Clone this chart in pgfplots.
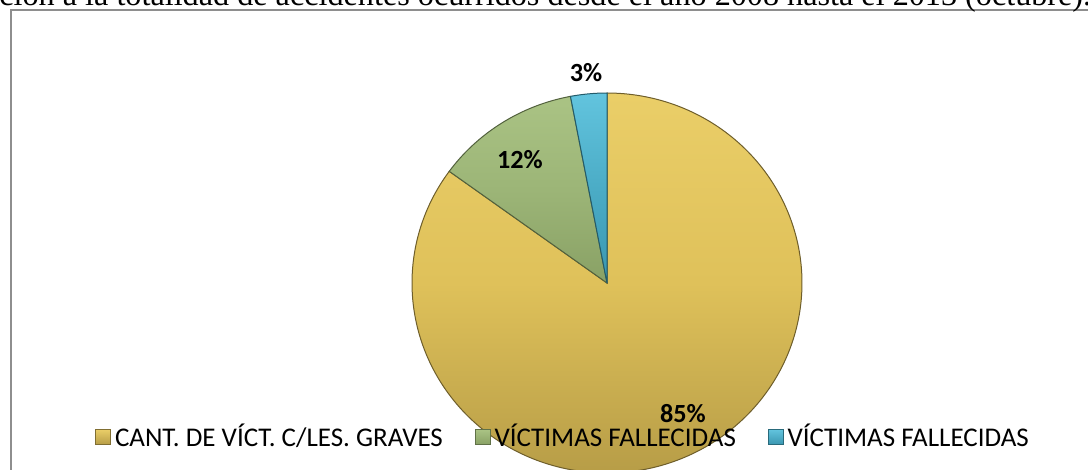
\documentclass[border=0pt]{standalone}
\usepackage{pgfplots}
\usepackage{pgfplotstable}
\pgfplotsset{compat=1.18}
\usepackage{fontspec}
\setmainfont{Carlito}
\newfontfamily\tnr{Liberation Serif}
\definecolor{yelTop}{HTML}{EACE68}
\definecolor{yelMid}{HTML}{DFC15A}
\definecolor{yelBot}{HTML}{B79D47}
\definecolor{grnTop}{HTML}{AAC384}
\definecolor{grnMid}{HTML}{9CB577}
\definecolor{grnBot}{HTML}{89A165}
\definecolor{bluTop}{HTML}{62C4DE}
\definecolor{bluMid}{HTML}{4BACC6}
\definecolor{bluBot}{HTML}{3A97B0}
\definecolor{frame}{HTML}{8E8E8E}
\pgfplotstableread{
label value
graves 85
fallecidas 12
fallecidasb 3
}\piedata
\pgfplotstablegetelem{0}{value}\of\piedata \pgfmathsetmacro\va{\pgfplotsretval}
\pgfplotstablegetelem{1}{value}\of\piedata \pgfmathsetmacro\vb{\pgfplotsretval}
\pgfplotstablegetelem{2}{value}\of\piedata \pgfmathsetmacro\vc{\pgfplotsretval}
\pgfmathsetmacro\aA{90-3.6*\va}
\pgfmathsetmacro\aB{\aA-3.6*\vb}
\pgfmathsetmacro\aC{\aB-3.6*\vc}
\begin{document}%
\begin{tikzpicture}
\clip (0,0) rectangle (544pt,235pt);
\begin{pgfinterruptboundingbox}
\begin{axis}[
  at={(0pt,0pt)}, anchor=south west,
  scale only axis, width=544pt, height=235pt,
  xmin=0, xmax=1088, ymin=0, ymax=470, y dir=reverse,
  hide axis, clip=false,
  legend columns=3,
  legend cell align=left,
  legend style={at={(axis cs:95,437)}, anchor=west, draw=none, fill=none,
    inner sep=0pt, font=\fontsize{13.5}{15}\selectfont,
    /tikz/every even column/.append style={column sep=14pt}},
]
\draw[color=frame, line width=1.1pt] (axis cs:11,490) -- (axis cs:11,10) -- (axis cs:1110,10);
\node[anchor=base west, inner sep=0pt, font=\tnr\fontsize{16.1}{18}\selectfont] at (axis cs:-1,6)
  {ción a la totalidad de accidentes ocurridos desde el año 2008 hasta el 2013 (octubre).};

\addlegendimage{legend image code/.code={\draw[draw=yelBot!70!black, line width=0.3pt, top color=yelTop, bottom color=yelBot] (0pt,-3.75pt) rectangle (7.5pt,3.75pt);}}
\addlegendentry{CANT. DE VÍCT. C/LES. GRAVES}
\addlegendimage{legend image code/.code={\draw[draw=grnBot!70!black, line width=0.3pt, top color=grnTop, bottom color=grnBot] (0pt,-3.75pt) rectangle (7.5pt,3.75pt);}}
\addlegendentry{VÍCTIMAS FALLECIDAS}
\addlegendimage{legend image code/.code={\draw[draw=bluBot!70!black, line width=0.3pt, top color=bluTop, bottom color=bluBot] (0pt,-3.75pt) rectangle (7.5pt,3.75pt);}}
\addlegendentry{VÍCTIMAS FALLECIDAS}

\addplot[forget plot, top color=yelTop, bottom color=yelBot, middle color=yelMid,
  draw=yelBot!60!black, line width=0.5pt, domain=\aA:90, samples=240, variable=\t]
  ({607+195*cos(t)},{283-190*sin(t)}) -- (axis cs:607,283) -- cycle;
\addplot[forget plot, top color=grnTop, bottom color=grnBot, middle color=grnMid,
  draw=grnBot!60!black, line width=0.5pt, domain=\aB:\aA, samples=60, variable=\t]
  ({607+195*cos(t)},{283-190*sin(t)}) -- (axis cs:607,283) -- cycle;
\addplot[forget plot, top color=bluTop, bottom color=bluBot, middle color=bluMid,
  draw=bluBot!60!black, line width=0.5pt, domain=\aC:\aB, samples=20, variable=\t]
  ({607+195*cos(t)},{283-190*sin(t)}) -- (axis cs:607,283) -- cycle;

\node[font=\bfseries\fontsize{13.1}{15}\selectfont] at (axis cs:586,73) {3\%};
\node[font=\bfseries\fontsize{13.1}{15}\selectfont] at (axis cs:520,160) {12\%};
\node[font=\bfseries\fontsize{13.1}{15}\selectfont] at (axis cs:683,414) {85\%};
\end{axis}
\end{pgfinterruptboundingbox}
\useasboundingbox (0,0) rectangle (544pt,235pt);
\end{tikzpicture}%
\end{document}
